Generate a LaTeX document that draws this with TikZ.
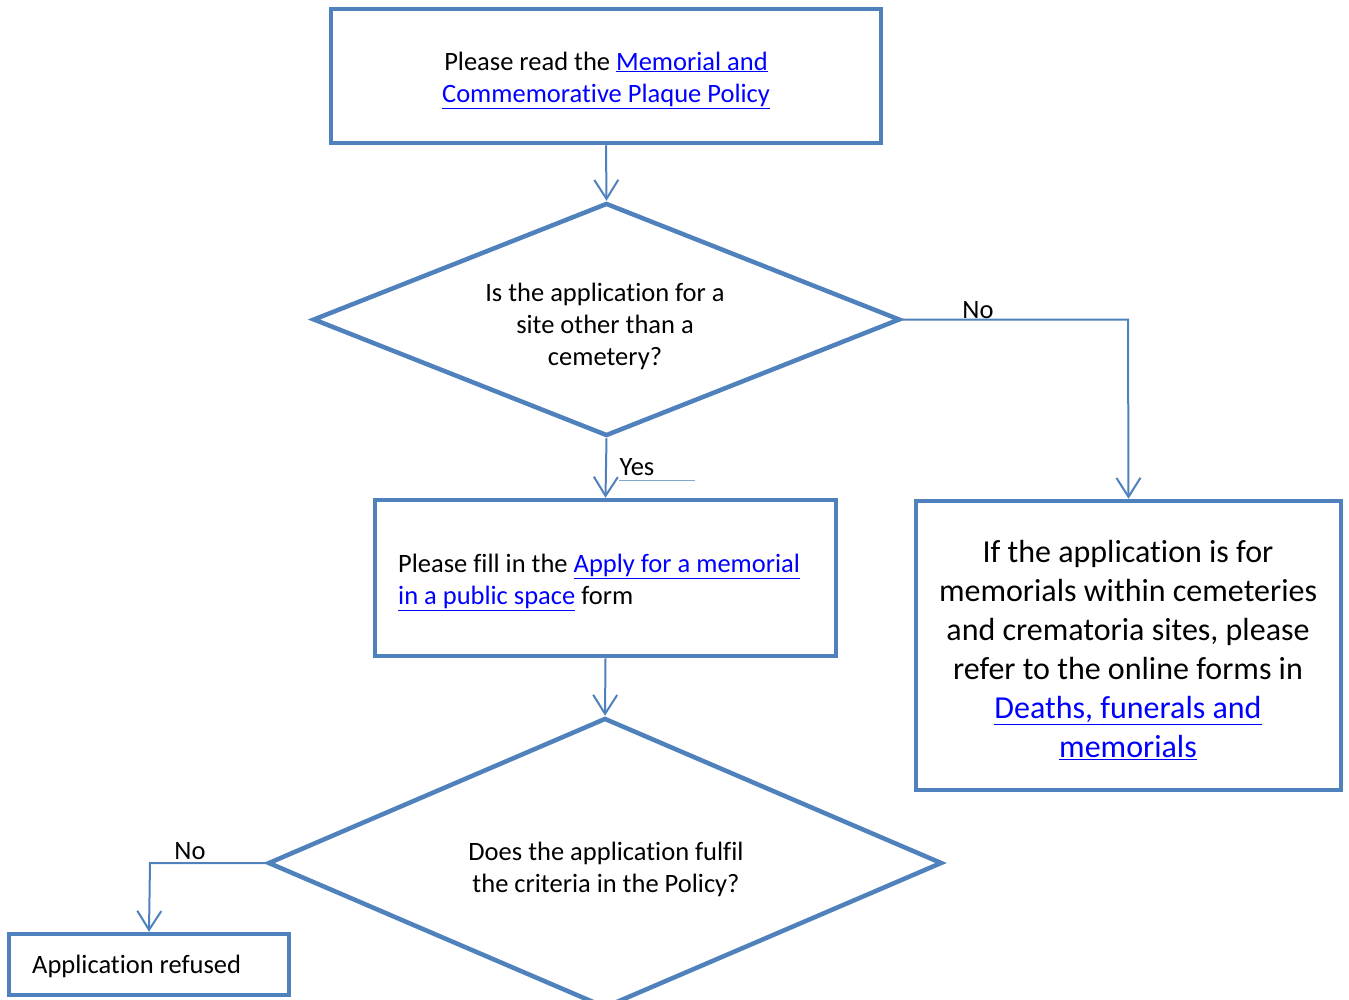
\documentclass[tikz,border=0pt]{standalone}
\usepackage{fontspec}
\setmainfont{Carlito}[Ligatures=NoCommon]
\usetikzlibrary{arrows.meta,shapes.geometric}
\definecolor{boxblue}{HTML}{4F81BD}
\definecolor{linkblue}{HTML}{0000FF}
\newcommand\lnk[1]{\textcolor{linkblue}{\underline{#1}}}
\begin{document}
\begin{tikzpicture}[x=1pt,y=-1pt,
  boxshape/.style={draw=boxblue,line width=4.5pt,rectangle,inner sep=0pt},
  decshape/.style={draw=boxblue,line width=4.5pt,diamond,inner sep=0pt,aspect=1},
  txt/.style={font=\fontsize{26.5}{32}\selectfont,align=center,inner sep=0pt},
  bigtxt/.style={font=\fontsize{32}{39}\selectfont,align=center,inner sep=0pt},
  conn/.style={draw=boxblue,line width=2pt,-{Straight Barb[length=19pt,width=24pt,line width=2pt]}},
  lbl/.style={font=\fontsize{26.5}{32}\selectfont,inner sep=0pt}
]
\useasboundingbox (0,0) rectangle (1349,999);
\fill[white] (0,0) rectangle (1349,999);

% top box
\node[boxshape,minimum width=550pt,minimum height=134pt] (read) at (606,76) {};
\node[txt] (readtxt) at (606,80) {Please read the \lnk{Memorial and}\\\lnk{Commemorative Plaque Policy}};

% diamond 1
\node[decshape,minimum width=587pt,minimum height=233pt] (q1) at (606.5,319.5) {};
\node[txt] (q1txt) at (605,326) {Is the application for a\\site other than a\\cemetery?};

% box 2
\node[boxshape,minimum width=461pt,minimum height=156pt] (fill) at (605.5,578) {};
\node[txt,align=left,anchor=west] (filltxt) at (398,582) {Please fill in the \lnk{Apply for a memorial}\\\lnk{in a public space} form};

% right box
\node[boxshape,minimum width=425pt,minimum height=289pt] (cem) at (1128.5,645.5) {};
\node[bigtxt] (cemtxt) at (1128,650) {If the application is for\\memorials within cemeteries\\and crematoria sites, please\\refer to the online forms in\\\lnk{Deaths, funerals and}\\\lnk{memorials}};

% diamond 2
\node[decshape,minimum width=674pt,minimum height=290pt] (q2) at (605,863) {};
\node[txt] (q2txt) at (606,869) {Does the application fulfil\\the criteria in the Policy?};

% refused box
\node[boxshape,minimum width=280pt,minimum height=61pt] (ref) at (149,964.5) {};
\node[txt,anchor=west] (reftxt) at (32,966) {Application refused};

% connectors
\draw[conn] (read.south) -- (q1.north);
\coordinate (nocorner) at (1128,319.5);
\draw[conn] (q1.east) -- (nocorner) -- (cem.north);
\draw[conn] (q1.south) -- (fill.north);
\draw[conn] (fill.south) -- (q2.north);
\coordinate (no2corner) at (150,863);
\draw[conn] (q2.west) -- (no2corner) -- (ref.north);

% labels
\node[lbl] (nolbl) at (978,310) {No};
\node[lbl] (yeslbl) at (637,467) {Yes};
\coordinate (ul1) at (619,480);
\coordinate (ul2) at (695,480);
\draw[boxblue!70,line width=1pt] (ul1) -- (ul2);
\node[lbl] (nolbl2) at (190,851) {No};
\end{tikzpicture}
\end{document}
